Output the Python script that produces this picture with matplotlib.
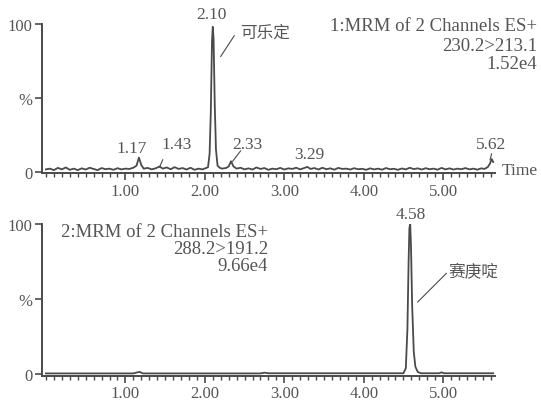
import numpy as np
import matplotlib
matplotlib.use("Agg")
import matplotlib.pyplot as plt
from matplotlib.ticker import MultipleLocator

plt.rcParams['font.family'] = ['Liberation Serif', 'Noto Sans CJK SC']

# channel 1: 230.2>213.1 (可乐定)
t1 = [0.00, 0.05, 0.10, 0.15, 0.20, 0.25, 0.30, 0.35, 0.40, 0.45, 0.50, 0.55,
      0.60, 0.65, 0.70, 0.75, 0.80, 0.85, 0.90, 0.95, 1.00, 1.05, 1.10, 1.14,
      1.17, 1.20, 1.23, 1.28, 1.33, 1.38, 1.43, 1.47, 1.52, 1.57, 1.62, 1.67,
      1.72, 1.77, 1.82, 1.87, 1.92, 1.97, 2.02, 2.04, 2.06, 2.075, 2.09, 2.10,
      2.11, 2.125, 2.14, 2.16, 2.19, 2.22, 2.27, 2.30, 2.33, 2.36, 2.40, 2.45,
      2.50, 2.55, 2.60, 2.65, 2.70, 2.75, 2.80, 2.85, 2.90, 2.95, 3.00, 3.05,
      3.10, 3.15, 3.20, 3.25, 3.29, 3.33, 3.38, 3.43, 3.48, 3.53, 3.58, 3.63,
      3.68, 3.73, 3.78, 3.83, 3.88, 3.93, 3.98, 4.03, 4.08, 4.13, 4.18, 4.23,
      4.28, 4.33, 4.38, 4.43, 4.48, 4.53, 4.58, 4.63, 4.68, 4.73, 4.78, 4.83,
      4.88, 4.93, 4.98, 5.03, 5.08, 5.13, 5.18, 5.23, 5.28, 5.33, 5.38, 5.43,
      5.48, 5.52, 5.56, 5.59, 5.61, 5.63]
y1 = [1.5, 2.0, 1.0, 2.5, 1.5, 2.8, 1.2, 2.0, 1.0, 2.2, 1.4, 2.6,
      1.8, 1.0, 2.4, 1.6, 2.0, 1.2, 2.3, 1.5, 2.0, 1.8, 2.6, 4.0,
      9.5, 4.5, 2.0, 2.5, 1.5, 2.2, 3.5, 2.0, 2.8, 1.6, 3.0, 1.8,
      2.4, 1.4, 2.6, 1.2, 2.0, 1.5, 2.5, 3.0, 12.0, 40.0, 88.0, 98.0,
      90.0, 45.0, 15.0, 4.0, 2.5, 2.0, 2.5, 3.5, 7.0, 3.5, 2.0, 2.6,
      1.5, 2.2, 1.4, 2.8, 1.8, 2.4, 1.2, 2.0, 1.6, 2.5, 1.4, 2.2,
      1.8, 2.6, 1.5, 2.4, 3.2, 1.8, 2.4, 1.4, 2.6, 1.6, 2.2, 1.3,
      2.5, 1.8, 2.0, 1.4, 2.3, 1.6, 1.9, 1.2, 2.2, 1.5, 2.0, 1.3,
      2.4, 1.6, 1.9, 1.2, 2.1, 1.5, 2.6, 1.7, 2.2, 1.4, 2.3, 1.6,
      2.0, 1.3, 2.5, 1.5, 2.2, 1.4, 2.0, 1.6, 2.4, 1.5, 2.0, 1.3,
      2.2, 1.8, 3.0, 5.5, 8.5, 6.5]

# channel 2: 288.2>191.2 (赛庚啶)
t2 = [0.00, 1.10, 1.15, 1.18, 1.22, 2.70, 2.75, 2.80, 4.50, 4.53, 4.55, 4.565,
      4.575, 4.585, 4.595, 4.61, 4.63, 4.65, 4.68, 4.72, 4.95, 4.98, 5.01, 5.63]
y2 = [0.5, 0.5, 1.2, 1.5, 0.5, 0.5, 1.0, 0.6, 0.6, 4.0, 30.0, 75.0,
      97.0, 100.0, 85.0, 45.0, 15.0, 5.0, 1.5, 0.6, 0.6, 1.2, 0.6, 0.6]

peaks1 = ['1.17', '1.43', '2.10', '2.33', '3.29', '5.62']
peaks2 = ['4.58']
info1 = ['1:MRM of 2 Channels ES+', '230.2>213.1', '1.52e4']
info2 = ['2:MRM of 2 Channels ES+', '288.2>191.2', '9.66e4']
xticks = [1.0, 2.0, 3.0, 4.0, 5.0]

col = '#4a4a4a'
tcol = '#555555'
fs = 12.5

fig = plt.figure(figsize=(5.41, 4.02), dpi=100)
ax1 = fig.add_axes([0.0776, 0.567, 0.837, 0.371])
ax2 = fig.add_axes([0.0776, 0.063, 0.837, 0.378])


def style(ax):
    ax.set_xlim(-0.05, 5.65)
    ax.set_ylim(-1, 100)
    for s in ['top', 'right']:
        ax.spines[s].set_visible(False)
    for s in ['left', 'bottom']:
        ax.spines[s].set_color(col)
        ax.spines[s].set_linewidth(1.4)
    ax.set_xticks(xticks)
    ax.set_xticklabels(['%.2f' % v for v in xticks])
    ax.xaxis.set_minor_locator(MultipleLocator(0.1))
    ax.set_yticks([0, 50, 100])
    ax.set_yticklabels(['0', '%', '100'])
    ax.tick_params(axis='both', which='major', direction='out', length=5,
                   width=1.2, color=col, labelcolor=tcol, labelsize=12, pad=2)
    ax.tick_params(axis='x', which='minor', direction='out', length=3,
                   width=1.0, color=col)


ax1.plot(t1, y1, color=col, lw=1.3)
ax2.plot(t2, y2, color=col, lw=1.3)
style(ax1)
style(ax2)

# peak labels, top
pos1 = [(1.075, 10.5), (1.65, 13), (2.08, 101), (2.54, 13.5), (3.32, 6.5), (5.60, 13)]
for lab, (x, y) in zip(peaks1, pos1):
    ax1.text(x, y, lab, ha='center', va='bottom', fontsize=fs, color=tcol, clip_on=False)
ax1.plot([1.47, 1.43], [8, 3], color=col, lw=0.8)
ax1.plot([2.35, 2.45], [7, 14], color=col, lw=0.8)
ax1.plot([5.59, 5.61], [8, 12], color=col, lw=0.8)
ax1.plot([2.20, 2.37], [78, 92], color=col, lw=0.8)
ax1.text(2.45, 94, '可乐定', fontsize=12, color=tcol, va='center', ha='left')
ax1.text(5.74, 1, 'Time', fontsize=fs, color=tcol, va='center', ha='left', clip_on=False)
for s, yf in zip(info1, [0.987, 0.852, 0.732]):
    ax1.text(1.093, yf, s, transform=ax1.transAxes, ha='right',
             va='center', fontsize=13.5, color=tcol, clip_on=False)

# peak labels, bottom
ax2.text(4.59, 101, peaks2[0], ha='center', va='bottom', fontsize=fs, color=tcol, clip_on=False)
ax2.plot([4.68, 5.04], [48, 67], color=col, lw=0.8)
ax2.text(5.07, 68, '赛庚啶', fontsize=12, color=tcol, va='center', ha='left')
for s, yf in zip(info2, [0.948, 0.837, 0.725]):
    ax2.text(0.499, yf, s, transform=ax2.transAxes, ha='right',
             va='center', fontsize=13.5, color=tcol)

fig.savefig('out.png', dpi=100)
